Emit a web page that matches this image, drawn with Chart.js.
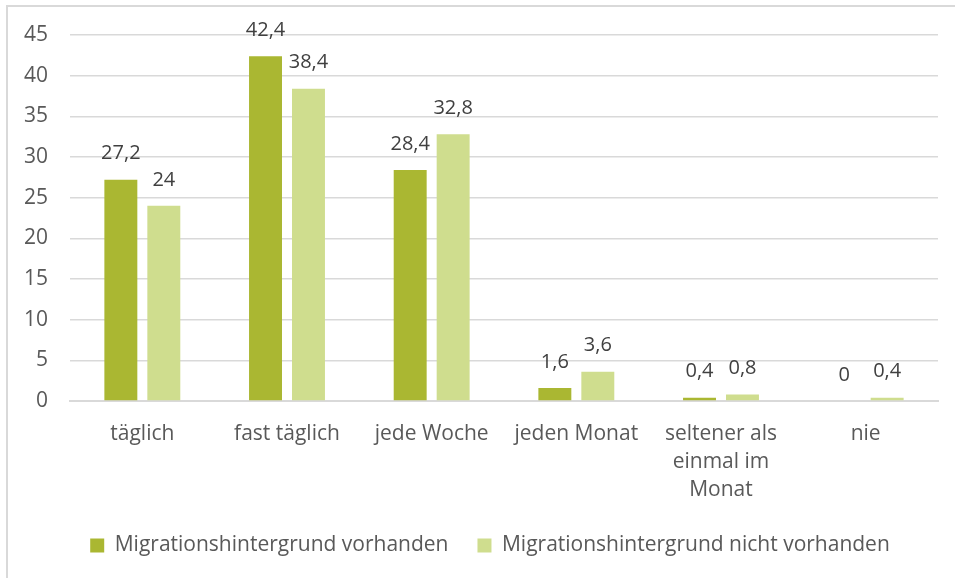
<!DOCTYPE html>
<html lang="de">
<head>
<meta charset="UTF-8">
<title>Nutzungshäufigkeit nach Migrationshintergrund</title>
<script src="https://cdn.jsdelivr.net/npm/chart.js@4.4.1/dist/chart.umd.min.js"></script>
<style>
  html, body { margin: 0; padding: 0; background: #fff; overflow: hidden; }
  #frame {
    position: absolute; left: 6px; top: 5px; width: 980px; height: 620px;
    border: 2px solid #d9d9d9; box-sizing: border-box;
  }
  #wrap { position: absolute; left: 0; top: 0; width: 955px; height: 578px; }
</style>
</head>
<body>
<div id="frame"></div>
<div id="wrap"><canvas id="chart"></canvas></div>
<script>
  const categories = ['täglich', 'fast täglich', 'jede Woche', 'jeden Monat',
    ['seltener als', 'einmal im', 'Monat'], 'nie'];
  const mitMigration = [27.2, 42.4, 28.4, 1.6, 0.4, 0];
  const ohneMigration = [24, 38.4, 32.8, 3.6, 0.8, 0.4];
  const yTicks = [0, 5, 10, 15, 20, 25, 30, 35, 40, 45];

  const FONT = '"Open Sans", Lato, sans-serif';

  // value labels above each bar, German decimal comma
  const valueLabels = {
    id: 'valueLabels',
    afterDatasetsDraw(chart) {
      const ctx = chart.ctx;
      ctx.save();
      ctx.font = '20px ' + FONT;
      ctx.fillStyle = '#404040';
      ctx.textAlign = 'center';
      ctx.textBaseline = 'middle';
      chart.data.datasets.forEach((ds, i) => {
        chart.getDatasetMeta(i).data.forEach((bar, j) => {
          const txt = String(ds.data[j]).replace('.', ',');
          ctx.fillText(txt, bar.x, bar.y - 26);
        });
      });
      ctx.restore();
    }
  };

  // move the legend a bit right, roughly under the plot area
  const legendShift = {
    id: 'legendShift',
    afterLayout(chart) {
      const lg = chart.legend;
      const target = (chart.chartArea.left + chart.chartArea.right) / 2 - 14;
      const dx = target - (lg.left + lg.right) / 2;
      lg.left += dx;
      lg.right += dx;
    }
  };

  new Chart(document.getElementById('chart'), {
    type: 'bar',
    data: {
      labels: categories,
      datasets: [{
        label: 'Migrationshintergrund vorhanden',
        data: mitMigration,
        backgroundColor: '#aab732'
      }, {
        label: 'Migrationshintergrund nicht vorhanden',
        data: ohneMigration,
        backgroundColor: '#cfdd8e'
      }]
    },
    options: {
      responsive: true,
      maintainAspectRatio: false,
      animation: false,
      layout: { padding: { left: 0, right: 17, top: 35, bottom: 12 } },
      datasets: { bar: { categoryPercentage: 0.594, barPercentage: 0.767 } },
      scales: {
        x: {
          grid: { display: false },
          border: { color: '#d9d9d9', width: 2 },
          ticks: { color: '#595959', font: { family: FONT, size: 21, lineHeight: 1.33 }, padding: 11, maxRotation: 0, autoSkip: false },
          afterFit(scale) { scale.height = 105; }
        },
        y: {
          min: 0, max: 45,
          afterBuildTicks(scale) { scale.ticks = yTicks.map(v => ({ value: v })); },
          grid: { color: '#d9d9d9', lineWidth: 1.5, drawTicks: false },
          border: { display: false },
          ticks: { color: '#595959', font: { family: FONT, size: 21 }, padding: 22 },
          afterFit(scale) { scale.width = 70; }
        }
      },
      plugins: {
        tooltip: { enabled: false },
        legend: {
          position: 'bottom',
          labels: {
            color: '#595959',
            font: { family: FONT, size: 21 },
            boxWidth: 14, boxHeight: 14, padding: 29
          }
        }
      }
    },
    plugins: [valueLabels, legendShift]
  });
</script>
</body>
</html>
